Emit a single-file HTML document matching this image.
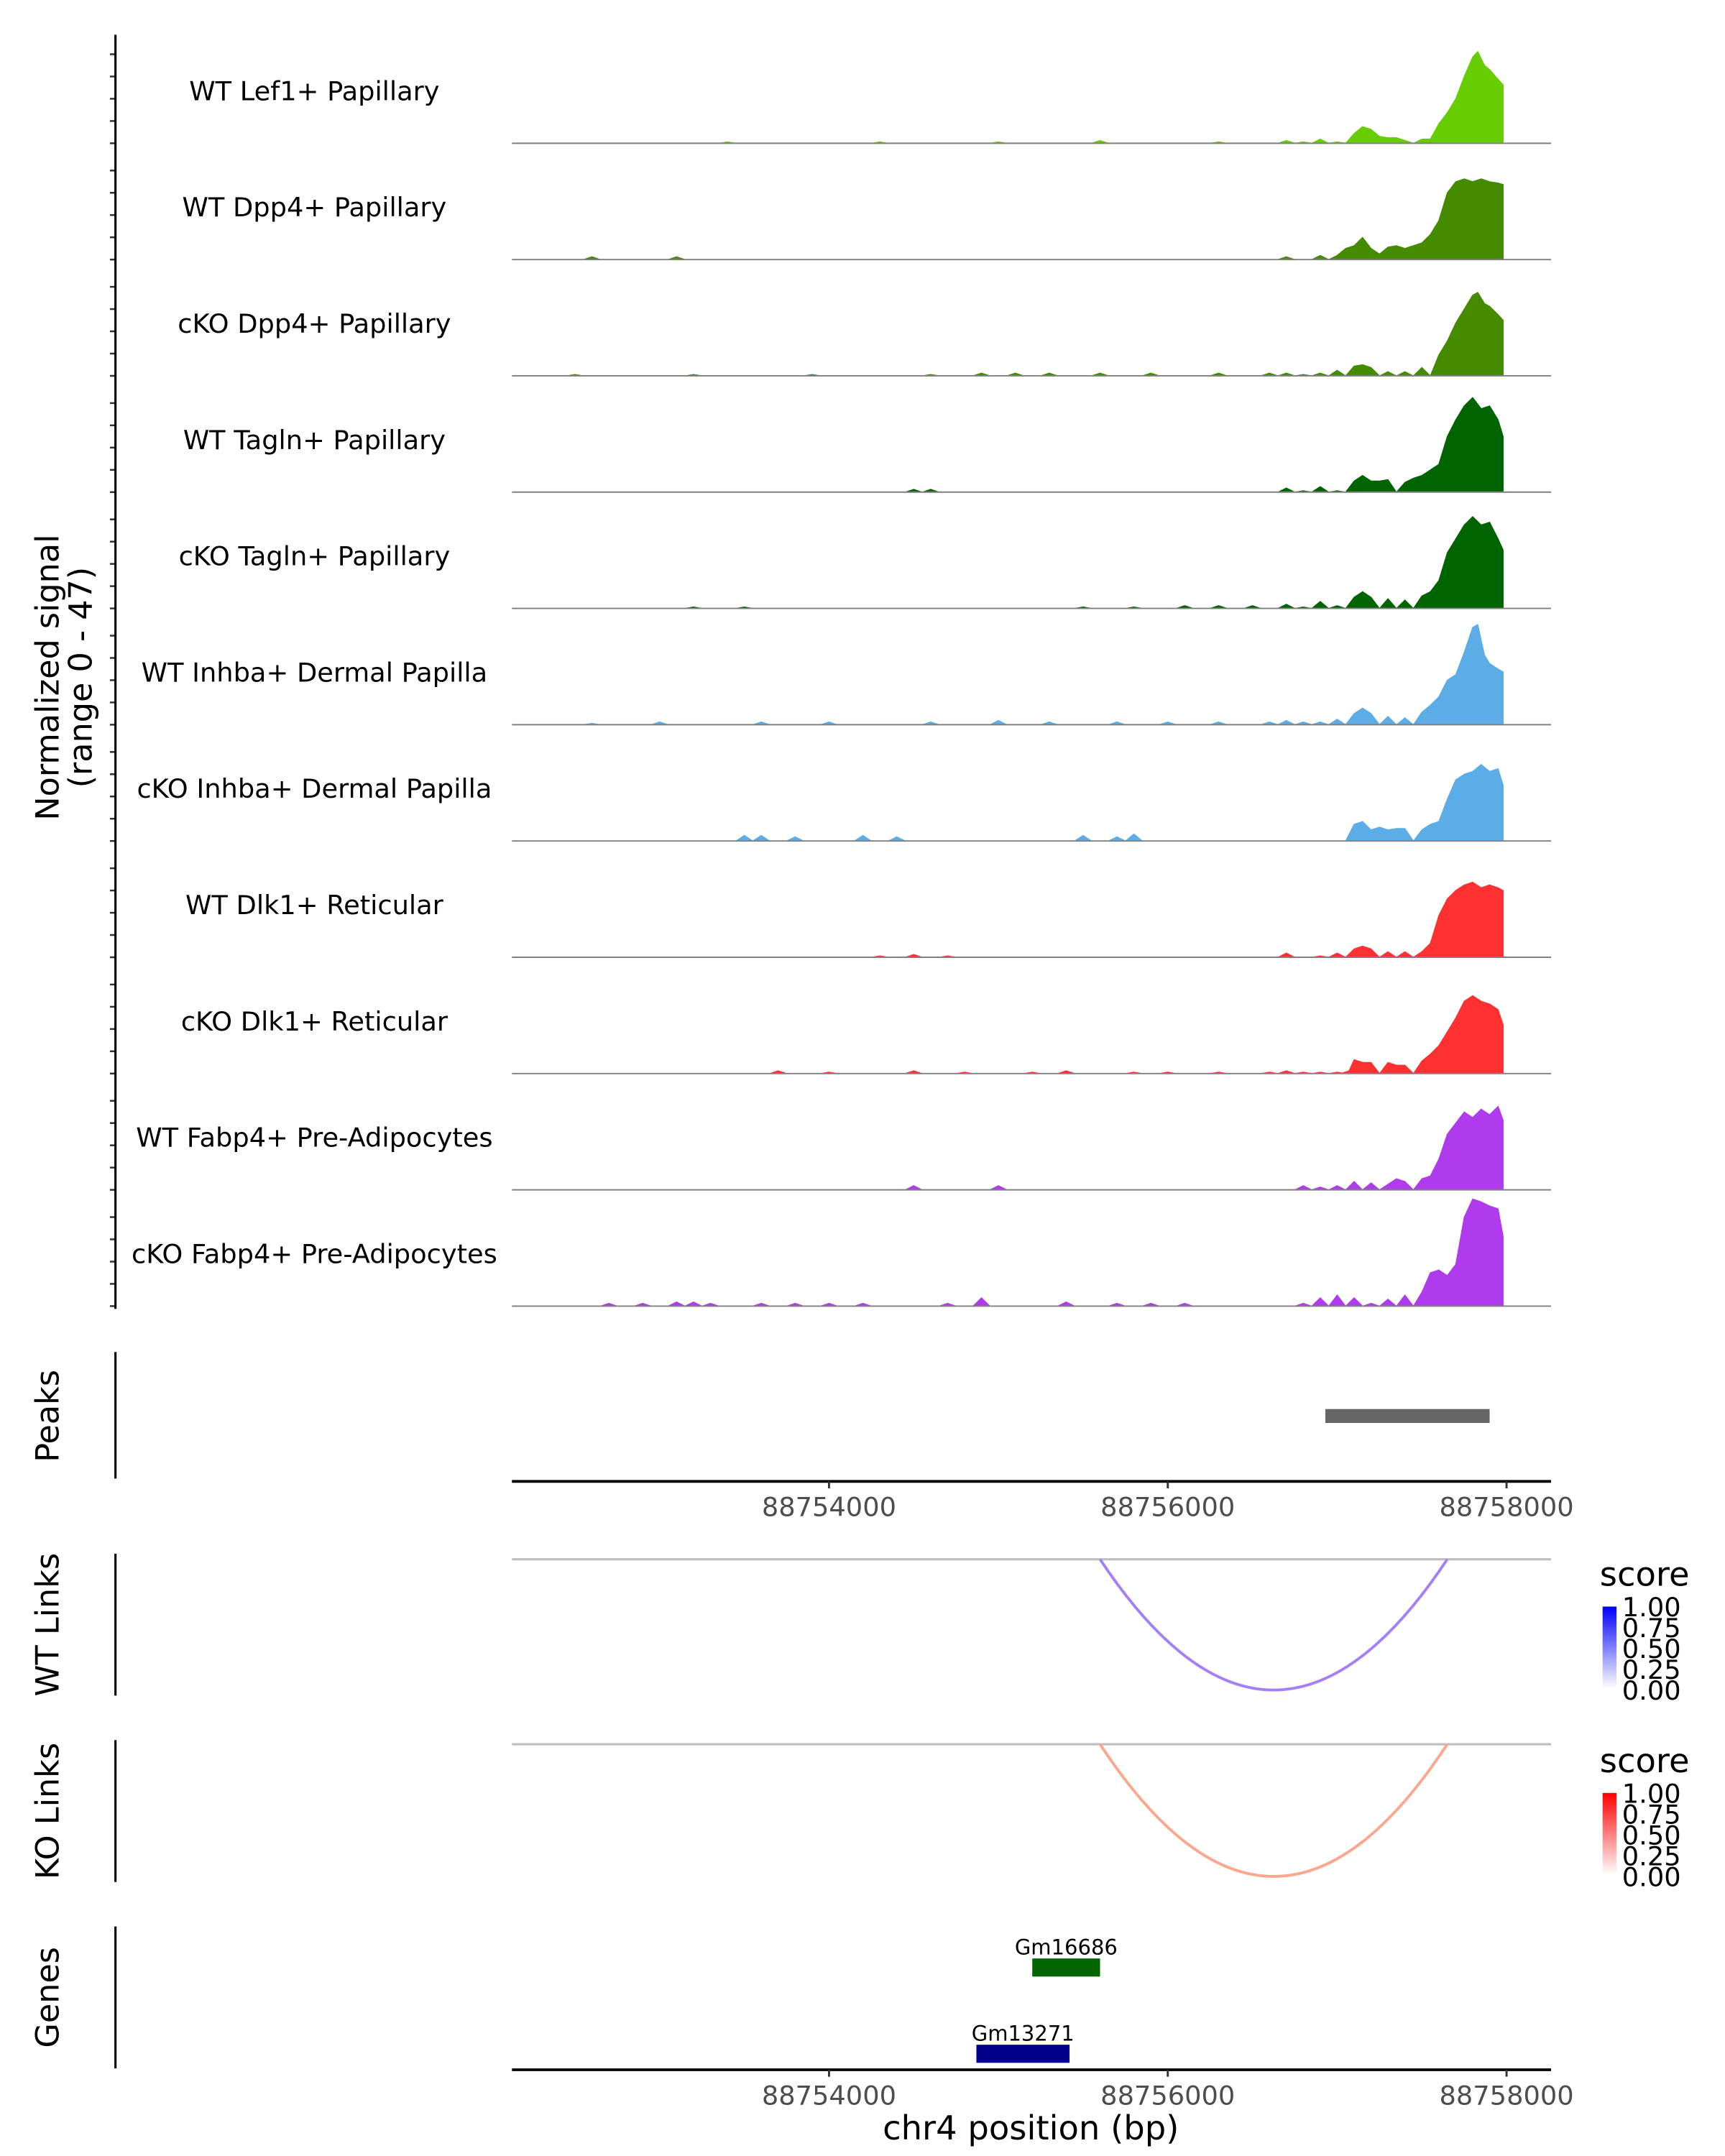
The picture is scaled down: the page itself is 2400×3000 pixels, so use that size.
<!DOCTYPE html>
<html><head><meta charset="utf-8"><style>
html,body{margin:0;padding:0;background:#fff;}
svg{display:block;font-family:"DejaVu Sans","Liberation Sans",sans-serif;}
</style></head><body>
<svg id="chart" width="2400" height="3000" viewBox="0 0 1240 1550" xmlns="http://www.w3.org/2000/svg">
<rect width="1240" height="1550" fill="#fff"/>
<g id="tracks"></g>
<line x1="83" y1="25" x2="83" y2="941" stroke="#000" stroke-width="1.6"/>
<text transform="translate(42,487) rotate(-90)" text-anchor="middle" font-size="23">Normalized signal</text>
<text transform="translate(66,487) rotate(-90)" text-anchor="middle" font-size="23">(range 0 - 47)</text>

<line x1="83" y1="972" x2="83" y2="1063" stroke="#000" stroke-width="1.6"/>
<text transform="translate(42,1018) rotate(-90)" text-anchor="middle" font-size="23">Peaks</text>
<g id="peaks"></g>
<g id="xaxis1"></g>

<line x1="83" y1="1117" x2="83" y2="1219" stroke="#000" stroke-width="1.6"/>
<text transform="translate(42,1168) rotate(-90)" text-anchor="middle" font-size="23">WT Links</text>
<line x1="368" y1="1121" x2="1115" y2="1121" stroke="#bebebe" stroke-width="1.6"/>
<g id="wtlinks"></g>
<line x1="83" y1="1251" x2="83" y2="1353" stroke="#000" stroke-width="1.6"/>
<text transform="translate(42,1302) rotate(-90)" text-anchor="middle" font-size="23">KO Links</text>
<line x1="368" y1="1254" x2="1115" y2="1254" stroke="#bebebe" stroke-width="1.6"/>
<g id="kolinks"></g>

<defs>
<linearGradient id="gBlue" x1="0" y1="1" x2="0" y2="0"><stop offset="0" stop-color="#ffffff"/><stop offset="1" stop-color="#0000ff"/></linearGradient>
<linearGradient id="gRed" x1="0" y1="1" x2="0" y2="0"><stop offset="0" stop-color="#ffffff"/><stop offset="1" stop-color="#ff0000"/></linearGradient>
</defs>
<g>
<text x="1150" y="1140" font-size="24">score</text>
<rect x="1152" y="1155" width="10" height="59" fill="url(#gBlue)"/>
<g font-size="19"><text x="1166" y="1162">1.00</text><text x="1166" y="1177">0.75</text><text x="1166" y="1192">0.50</text><text x="1166" y="1207">0.25</text><text x="1166" y="1222">0.00</text></g>
</g>
<g>
<text x="1150" y="1274" font-size="24">score</text>
<rect x="1152" y="1289" width="10" height="59" fill="url(#gRed)"/>
<g font-size="19"><text x="1166" y="1296">1.00</text><text x="1166" y="1311">0.75</text><text x="1166" y="1326">0.50</text><text x="1166" y="1341">0.25</text><text x="1166" y="1356">0.00</text></g>
</g>

<line x1="83" y1="1385" x2="83" y2="1487" stroke="#000" stroke-width="1.6"/>
<text transform="translate(42,1436) rotate(-90)" text-anchor="middle" font-size="23">Genes</text>
<g id="genes"></g>
<g id="xaxis2"></g>
<text x="741" y="1538" text-anchor="middle" font-size="24">chr4 position (bp)</text>
</svg>
<script>
// ---- data ----
const trackNames = ["WT Lef1+ Papillary","WT Dpp4+ Papillary","cKO Dpp4+ Papillary","WT Tagln+ Papillary","cKO Tagln+ Papillary","WT Inhba+ Dermal Papilla","cKO Inhba+ Dermal Papilla","WT Dlk1+ Reticular","cKO Dlk1+ Reticular","WT Fabp4+ Pre-Adipocytes","cKO Fabp4+ Pre-Adipocytes"];
const trackColors = ["#66cd00","#458b00","#458b00","#006400","#006400","#5cace8","#5cace8","#ff3030","#ff3030","#b03aee","#b03aee"];
const binStart = 88752300;
const binSize = 100;
const signalEnd = 88757980;
// sparse signals: [binIndex, value]
const sigWTLef1 = [[11,1],[20,1],[27,1],[33,2],[40,1],[44,2],[45,1],[46,3],[47,1],[48,7],[48.5,12],[49,10],[49.5,5],[50,4],[50.5,4],[51,2],[52,3],[52.5,3],[53,14],[53.5,22],[54,32],[54.5,48],[55,62],[55.3,66],[55.7,56],[56,53],[56.5,46],[57,42]];
const sigWTDpp4 = [[3,2],[8,2],[44,2],[46,3],[47,3],[47.5,8],[48,10],[48.5,16],[49,8],[49.5,4],[50,9],[50.5,10],[51,8],[51.5,10],[52,12],[52.5,18],[53,28],[53.5,48],[54,56],[54.5,58],[55,56],[55.5,58],[56,56],[56.5,55],[57,54]];
const sigKODpp4 = [[2,1],[9,1],[16,1],[23,1],[26,2],[28,2],[30,2],[33,2],[36,2],[40,2],[43,2],[44,2],[45,1],[46,2],[47,4],[48,7],[48.5,8],[49,6],[50,3],[51,3],[52,6],[53,15],[53.5,25],[54,38],[54.5,48],[55,58],[55.3,60],[55.7,52],[56,50],[56.5,44],[57,40]];
const sigWTTagln = [[22,2],[23,2],[44,3],[45,1],[46,4],[47,1],[48,8],[48.5,12],[49,8],[49.5,8],[50,9],[51,7],[51.5,10],[52,12],[52.5,16],[53,20],[53.5,40],[54,52],[54.5,62],[55,68],[55.5,60],[56,62],[56.5,52],[57,40]];
const sigKOTagln = [[9,1],[12,1],[32,1],[35,1],[38,2],[40,2],[42,2],[44,3],[45,1],[46,5],[47,2],[48,8],[48.5,12],[49,8],[50,7],[51,6],[52,9],[52.5,12],[53,20],[53.5,40],[54,50],[54.5,60],[55,66],[55.5,60],[56,62],[56.5,50],[57,42]];
const sigWTInhba = [[3,1],[7,2],[13,2],[17,2],[23,2],[27,3],[30,2],[34,2],[37,2],[40,2],[43,2],[44,3],[45,2],[46,2],[47,4],[48,8],[48.5,12],[49,8],[50,6],[51,5],[52,9],[52.5,14],[53,20],[53.5,32],[54,36],[54.5,52],[55,70],[55.3,72],[55.7,50],[56,44],[56.5,40],[57,38]];
const sigKOInhba = [[12,4],[13,4],[15,3],[19,4],[21,3],[32,4],[34,3],[35,5],[47.5,0],[48,12],[48.5,14],[49,8],[49.5,10],[50,8],[50.5,9],[51,9],[52,8],[52.5,12],[53,14],[53.5,30],[54,44],[54.5,48],[55,50],[55.5,55],[56,50],[56.5,52],[57,40]];
const sigWTDlk1 = [[20,1],[22,2],[24,1],[44,3],[46,1],[47,3],[48,6],[48.5,8],[49,6],[50,4],[51,4],[52,4],[52.5,10],[53,30],[53.5,42],[54,48],[54.5,52],[55,54],[55.5,50],[56,52],[56.5,50],[57,48]];
const sigKODlk1 = [[14,2],[17,1],[22,2],[25,1],[29,1],[31,2],[35,1],[37,1],[40,1],[43,1],[44,2],[45,1],[46,1],[47,1],[47.7,2],[48,10],[48.5,8],[49,8],[50,8],[50.5,6],[51,6],[52,9],[52.5,14],[53,20],[53.5,30],[54,40],[54.5,52],[55,56],[55.5,52],[56,50],[56.5,46],[57,35]];
const sigWTFabp4 = [[22,3],[27,3],[45,3],[46,2],[47,3],[48,6],[49,5],[50,4],[50.5,8],[51,6],[52,8],[52.5,10],[53,22],[53.5,40],[54,48],[54.5,56],[55,52],[55.5,58],[56,54],[56.5,60],[57,50]];
const sigKOFabp4 = [[4,2],[6,2],[8,3],[9,3],[10,2],[13,2],[15,2],[17,2],[19,2],[24,2],[26,6],[31,3],[34,2],[36,2],[38,2],[45,2],[46,6],[47,8],[48,6],[49,2],[50,5],[51,8],[52,10],[52.5,24],[53,26],[53.5,22],[54,30],[54.5,64],[55,77],[55.5,75],[56,72],[56.5,70],[57,50]];
const signals = [sigWTLef1,sigWTDpp4,sigKODpp4,sigWTTagln,sigKOTagln,sigWTInhba,sigKOInhba,sigWTDlk1,sigKODlk1,sigWTFabp4,sigKOFabp4];
const peakRegions = [[88756930,88757900]];
const xTicks = [88754000,88756000,88758000];
const wtLinks = [[88755600,88757650,0.5]];
const koLinks = [[88755600,88757650,0.4]];
const geneNames = ["Gm16686","Gm13271"];
const geneStarts = [88755200,88754870];
const geneEnds = [88755600,88755420];
const geneColors = ["#006400","#00008b"];
const geneRows = [0,1];

// ---- scales ----
const xMin = 88752128, xMax = 88758263, pxL = 368, pxR = 1115;
function xs(p){ return pxL + (p - xMin) / (xMax - xMin) * (pxR - pxL); }
function posOf(i){ return Math.min(binStart + i*binSize, signalEnd); }
const yUnit = 1.0;
const NS = "http://www.w3.org/2000/svg";
function mk(tag, attrs, parent){ const e=document.createElementNS(NS,tag); for(const k in attrs) e.setAttribute(k,attrs[k]); parent.appendChild(e); return e; }

const tracksG = document.getElementById('tracks');
trackNames.forEach((name,t)=>{
  const base = 103 + 83.6*t;
  const g = mk('g',{},tracksG);
  
  
  for(let k=0;k<5;k++){
    const tk = mk('line',{x1:79,x2:83,y1:base-16*k,y2:base-16*k,stroke:'#333','stroke-width':1.3},g);
    
    
  }
  const lbl = mk('text',{x:226,y:base-31,'text-anchor':'middle','font-size':'19'},g);
  lbl.textContent = name;
  
  
  const pts = signals[t].slice().sort((a,b)=>a[0]-b[0]);
  let d = 'M'+xs(binStart).toFixed(2)+','+base;
  let prev = -10;
  pts.forEach(([i,v])=>{
    if(i - prev > 0.6){
      if(prev >= 0) d += ' L'+xs(posOf(prev+0.5)).toFixed(2)+','+base;
      d += ' L'+xs(posOf(i-0.5)).toFixed(2)+','+base;
    }
    d += ' L'+xs(posOf(i)).toFixed(2)+','+(base - v*yUnit).toFixed(2);
    prev = i;
  });
  const last = pts[pts.length-1];
  d += ' L'+xs(signalEnd).toFixed(2)+','+(base - last[1]*yUnit).toFixed(2)+' L'+xs(signalEnd).toFixed(2)+','+base+' Z';
  const area = mk('path',{d:d,fill:trackColors[t],stroke:trackColors[t],'stroke-width':0.6},g);
  
  
  const bl = mk('line',{x1:pxL,x2:pxR,y1:base,y2:base,stroke:'#7f7f7f','stroke-width':1},g);
  
  
});

const pg = document.getElementById('peaks');
peakRegions.forEach(([a,b])=>{
  const r = mk('rect',{x:xs(a),y:1013,width:xs(b)-xs(a),height:10,fill:'#666'},pg);
  
  
});

function xAxis(gid, y){
  const g = document.getElementById(gid);
  mk('line',{x1:pxL,x2:pxR,y1:y,y2:y,stroke:'#000','stroke-width':2},g);
  xTicks.forEach(v=>{
    const x = xs(v);
    mk('line',{x1:x,x2:x,y1:y,y2:y+5,stroke:'#333','stroke-width':1.5},g);
    const t = mk('text',{x:x,y:y+25,'text-anchor':'middle','font-size':'19',fill:'#4d4d4d'},g);
    t.textContent = String(v);
    
    
  });
}
xAxis('xaxis1',1065);
xAxis('xaxis2',1488);

function links(gid, arr, top, bottom, color){
  const g = document.getElementById(gid);
  arr.forEach(([a,b])=>{
    const x1=xs(a), x2=xs(b), xm=(x1+x2)/2;
    const cy = 2*bottom - top;
    const p = mk('path',{d:`M${x1},${top} Q${xm},${cy} ${x2},${top}`,fill:'none',stroke:color,'stroke-width':2},g);
    
    
  });
}
links('wtlinks', wtLinks, 1121, 1215, '#a47ff7');
links('kolinks', koLinks, 1254, 1349, '#fca68e');

const gg = document.getElementById('genes');
geneNames.forEach((n,i)=>{
  const y = geneRows[i] ? 1470 : 1408;
  const r = mk('rect',{x:xs(geneStarts[i]),y:y,width:xs(geneEnds[i])-xs(geneStarts[i]),height:13,fill:geneColors[i]},gg);
  
  
  const t = mk('text',{x:(xs(geneStarts[i])+xs(geneEnds[i]))/2,y:y-3,'text-anchor':'middle','font-size':'15'},gg);
  t.textContent = n;
  
  
});
</script>
</body></html>
